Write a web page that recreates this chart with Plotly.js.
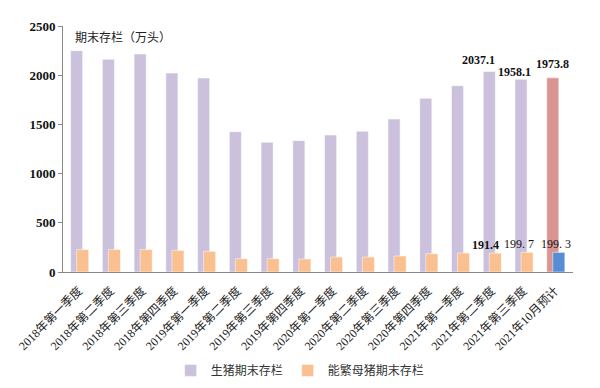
<!DOCTYPE html>
<html>
<head>
<meta charset="utf-8">
<script src="https://cdn.plot.ly/plotly-3.0.1.min.js"></script>
<style>html,body{margin:0;padding:0;background:#fff;}#chart{width:600px;height:388px;}</style>
</head>
<body>
<div id="chart"></div>
<script>
const categories = ['2018年第一季度','2018年第二季度','2018年第三季度','2018年第四季度',
  '2019年第一季度','2019年第二季度','2019年第三季度','2019年第四季度',
  '2020年第一季度','2020年第二季度','2020年第三季度','2020年第四季度',
  '2021年第一季度','2021年第二季度','2021年第三季度','2021年10月预计'];
const hogStock = [2249, 2161, 2215, 2022, 1971, 1426, 1318, 1335, 1392, 1430, 1555, 1765, 1893, 2037.1, 1958.1, 1973.8];
const sowStock = [228, 229, 228, 220, 210, 135, 135, 132, 152, 152, 163, 186, 193, 191.4, 199.7, 199.3];
const hogLabels = ['', '', '', '', '', '', '', '', '', '', '', '', '', '2037.1', '1958.1', '1973.8'];
const sowLabels = ['', '', '', '', '', '', '', '', '', '', '', '', '', '191.4', '199. 7', '199. 3'];
const seriesNames = ['生猪期末存栏', '能繁母猪期末存栏'];

const hogColors = categories.map((c, i) => i === categories.length - 1 ? '#D99594' : '#CCC1DC');
const sowColors = categories.map((c, i) => i === categories.length - 1 ? '#558ED5' : '#FAC090');

const serif = 'Liberation Serif, Times New Roman, Noto Sans CJK SC, serif';
const cjk = 'Liberation Serif, Noto Sans CJK SC, sans-serif';

// label placement tweaks (pixels), keyed by category index
const hogNudge = {13: [-13, 3], 14: [-9, -2], 15: [-3, 5]};
const sowNudge = {13: [-6, -1], 14: [-4, -1], 15: [1, -1]};

const traces = [
  {type: 'bar', name: seriesNames[0], x: categories, y: hogStock,
   marker: {color: hogColors, line: {color: '#ffffff', width: 0.5}},
   width: 0.38, offset: -0.26, hoverinfo: 'skip'},
  {type: 'bar', name: seriesNames[1], x: categories, y: sowStock,
   marker: {color: sowColors, line: {color: '#ffffff', width: 0.5}},
   width: 0.38, offset: -0.07, hoverinfo: 'skip'}
];

const annotations = [
  {xref: 'paper', yref: 'paper', x: 0.02, y: 0.955, xanchor: 'left', yanchor: 'middle',
   text: '期末存栏（万头）', showarrow: false, font: {family: cjk, size: 12, color: '#222'}}
];
hogLabels.forEach((t, i) => {
  if (!t) return;
  const n = hogNudge[i] || [0, 0];
  annotations.push({x: categories[i], y: hogStock[i], xref: 'x', yref: 'y', text: t,
    showarrow: false, yanchor: 'bottom', xshift: n[0], yshift: n[1],
    font: {family: serif, size: 12, color: '#111', weight: 'bold'}});
});
sowLabels.forEach((t, i) => {
  if (!t) return;
  const n = sowNudge[i] || [0, 0];
  annotations.push({x: categories[i], y: sowStock[i], xref: 'x', yref: 'y', text: t,
    showarrow: false, yanchor: 'bottom', xshift: n[0], yshift: n[1],
    font: {family: serif, size: 12, color: '#111', weight: t.indexOf(' ') < 0 ? 'bold' : 'normal'}});
});

const layout = {
  width: 600, height: 388,
  margin: {l: 63, r: 27, t: 26, b: 116, autoexpand: false},
  paper_bgcolor: '#ffffff', plot_bgcolor: '#ffffff',
  barmode: 'overlay',
  showlegend: true,
  legend: {orientation: 'h', x: 0.465, xanchor: 'center', y: -0.4, yanchor: 'middle',
    font: {family: cjk, size: 12, color: '#333'}, itemwidth: 30, traceorder: 'normal'},
  xaxis: {type: 'category', showline: true, linecolor: '#888', linewidth: 1,
    ticks: '', tickangle: -45, showgrid: false, zeroline: false, automargin: false,
    ticklabelstandoff: 6,
    tickfont: {family: cjk, size: 12, color: '#222'}},
  yaxis: {range: [0, 2500], dtick: 500, tick0: 0, showline: true, linecolor: '#888',
    linewidth: 1, ticks: 'outside', ticklen: 4, tickcolor: '#888', showgrid: false,
    zeroline: false, automargin: false,
    tickfont: {family: serif, size: 13, color: '#111', weight: 'bold'}},
  annotations: annotations
};

Plotly.newPlot('chart', traces, layout, {displayModeBar: false, staticPlot: true});
</script>
</body>
</html>
